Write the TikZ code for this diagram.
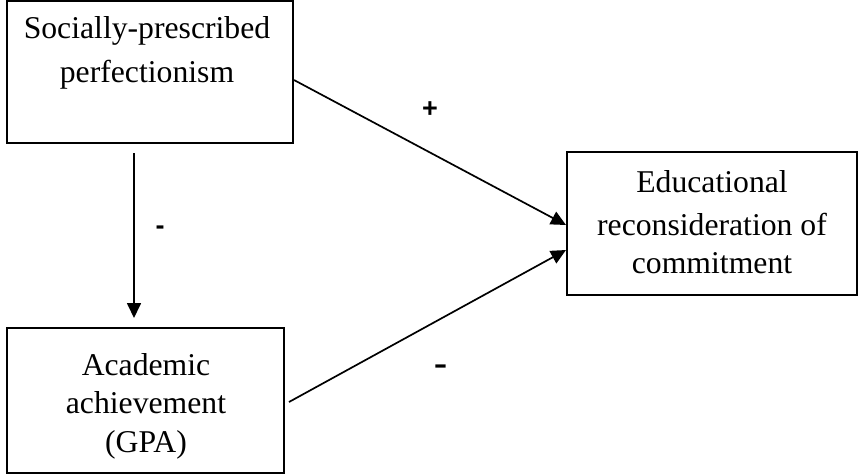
\documentclass[tikz,border=0pt]{standalone}
\usepackage{fontspec}
\setmainfont{Liberation Serif}
\newfontfamily\labelfont{Liberation Sans}
\usetikzlibrary{arrows.meta}
\tikzset{
  boxnode/.style={draw=black, line width=2pt, inner sep=0pt},
  txt/.style={anchor=base, inner sep=0pt, font=\fontsize{31.7}{38}\selectfont},
  sign/.style={inner sep=0pt, font=\labelfont\bfseries\fontsize{27}{27}\selectfont},
  link/.style={line width=1.7pt, -{Triangle[length=15pt,width=14pt]}}
}
\begin{document}
\begin{tikzpicture}[x=1pt,y=-1pt]
\useasboundingbox (0,0) rectangle (860,475);
% boxes
\node[boxnode, minimum width=286pt, minimum height=142pt] (A) at (150,72) {};
\node[boxnode, minimum width=290pt, minimum height=143pt] (C) at (712,223.5) {};
\node[boxnode, minimum width=277pt, minimum height=145pt] (B) at (145.5,400.5) {};
% texts
\node[txt] (a1) at (147,38) {Socially-prescribed};
\node[txt] (a2) at (147,82) {perfectionism};
\node[txt] (c1) at (712,192) {Educational};
\node[txt] (c2) at (712,235) {reconsideration of};
\node[txt] (c3) at (712,273) {commitment};
\node[txt] (b1) at (146,375) {Academic};
\node[txt] (b2) at (146,413) {achievement};
\node[txt] (b3) at (146,452) {(GPA)};
% signs
\node[sign] (s1) at (430,109.5) {+};
\node[sign] (s2) at (160,230) {-};
\node[sign] (s3) at (440.5,369.5) {\scalebox{1.5}[1]{-}};
% connectors
\draw[link] ([yshift=-8pt]A.east) -- ([yshift=-1.5pt]C.west);
\draw[link] ([xshift=4pt,yshift=-1.5pt]B.east) -- ([yshift=-26.5pt]C.west);
\draw[link] ([xshift=-16pt,yshift=-9pt]A.south) -- ([xshift=-11.5pt,yshift=9pt]B.north);
\end{tikzpicture}
\end{document}
